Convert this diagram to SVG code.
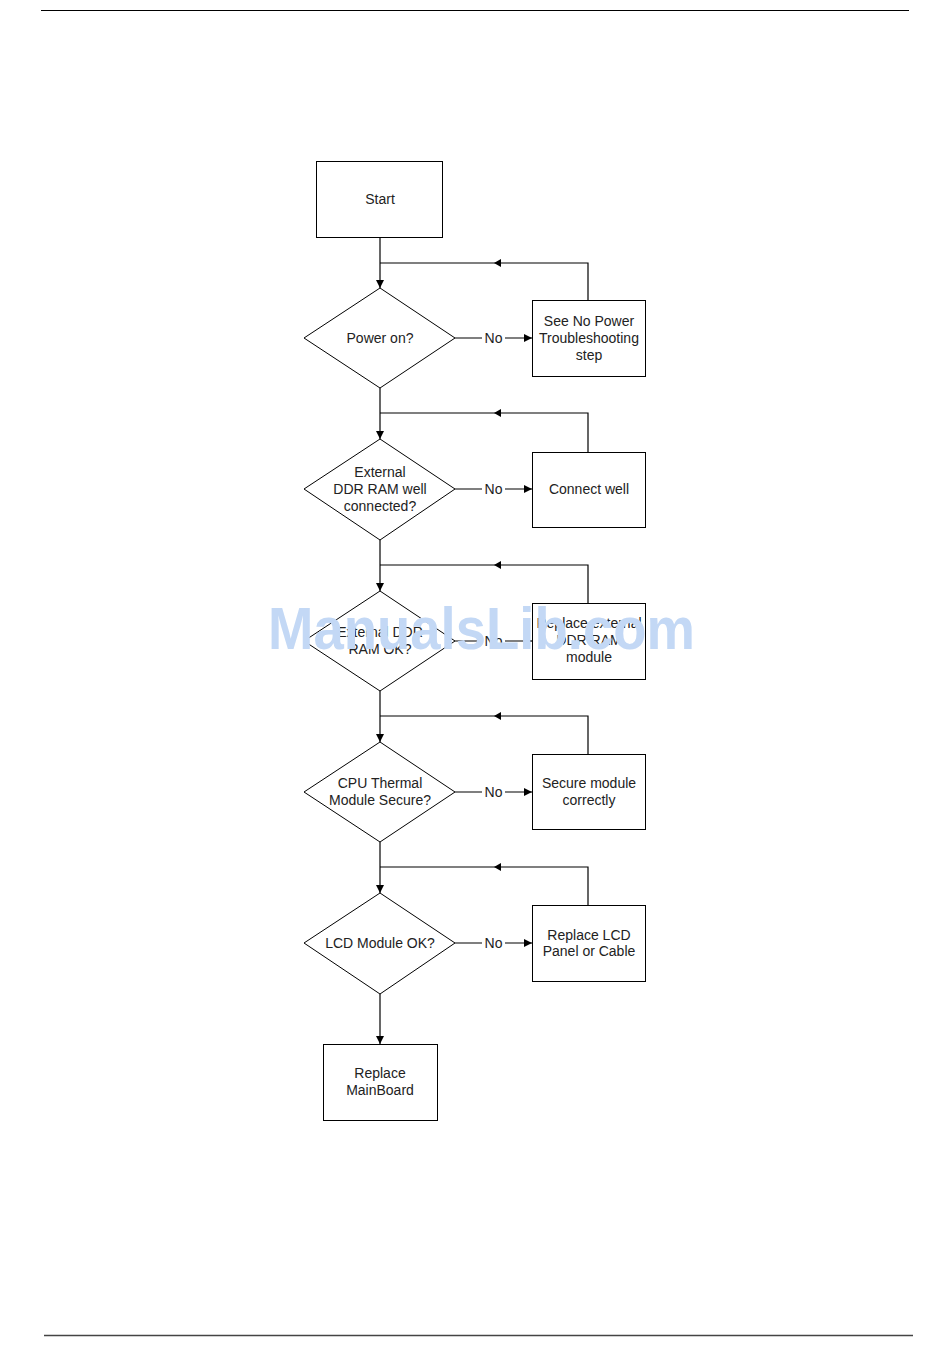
<svg xmlns="http://www.w3.org/2000/svg" width="950" height="1364" viewBox="0 0 950 1364">
<style>
.box{fill:#fff;stroke:#000;stroke-width:1}
.dia{fill:#fff;stroke:#000;stroke-width:1}
.ln{fill:none;stroke:#000;stroke-width:1.2}
.t{font-family:"Liberation Sans",Arial,sans-serif;font-size:14px;fill:#222;text-anchor:middle}
.wm{font-family:"Liberation Sans",Arial,sans-serif;font-weight:bold;font-size:60px;fill:#c3d8f5}
</style>
<defs>
<marker id="ah" markerWidth="8" markerHeight="8" refX="8" refY="4" orient="auto" markerUnits="userSpaceOnUse">
<path d="M0,0 L8,4 L0,8 Z" fill="#000"/>
</marker>
</defs>
<rect width="950" height="1364" fill="#fff"/>
<line x1="41" y1="10.5" x2="909" y2="10.5" stroke="#000" stroke-width="1.2"/>
<line x1="44" y1="1335.5" x2="913" y2="1335.5" stroke="#444" stroke-width="1.5"/>

<g id="connectors">
<path class="ln" d="M380,237 V288" marker-end="url(#ah)"/>
<path class="ln" d="M588,300 V263 H380"/>
<path d="M494,263 L501,259 L501,267 Z"/>
<path class="ln" d="M455,338 H482 M505,338 H532" marker-end="url(#ah)"/>
<text class="t" x="493.5" y="343">No</text>

<path class="ln" d="M380,388 V439" marker-end="url(#ah)"/>
<path class="ln" d="M588,452 V413 H380"/>
<path d="M494,413 L501,409 L501,417 Z"/>
<path class="ln" d="M455,489 H482 M505,489 H532" marker-end="url(#ah)"/>
<text class="t" x="493.5" y="494">No</text>

<path class="ln" d="M380,540 V591" marker-end="url(#ah)"/>
<path class="ln" d="M588,603 V565 H380"/>
<path d="M494,565 L501,561 L501,569 Z"/>
<path class="ln" d="M455,641 H482 M505,641 H532" marker-end="url(#ah)"/>
<text class="t" x="493.5" y="646">No</text>

<path class="ln" d="M380,691 V742" marker-end="url(#ah)"/>
<path class="ln" d="M588,754 V716 H380"/>
<path d="M494,716 L501,712 L501,720 Z"/>
<path class="ln" d="M455,792 H482 M505,792 H532" marker-end="url(#ah)"/>
<text class="t" x="493.5" y="797">No</text>

<path class="ln" d="M380,842 V893" marker-end="url(#ah)"/>
<path class="ln" d="M588,905 V867 H380"/>
<path d="M494,867 L501,863 L501,871 Z"/>
<path class="ln" d="M455,943 H482 M505,943 H532" marker-end="url(#ah)"/>
<text class="t" x="493.5" y="948">No</text>

<path class="ln" d="M380,994 V1044" marker-end="url(#ah)"/>
</g>

<g id="start">
<rect class="box" x="316.5" y="161.5" width="126" height="76"/>
<text class="t" x="380" y="204">Start</text>
</g>

<g id="d1">
<path class="dia" d="M380,288 L455,338 L380,388 L304,338 Z"/>
<text class="t" x="380" y="343">Power on?</text>
</g>
<g id="b1">
<rect class="box" x="532.5" y="300.5" width="113" height="76"/>
<text class="t" x="589" y="326">See No Power</text>
<text class="t" x="589" y="343">Troubleshooting</text>
<text class="t" x="589" y="360">step</text>
</g>

<g id="d2">
<path class="dia" d="M380,439 L455,489 L380,540 L304,489 Z"/>
<text class="t" x="380" y="477">External</text>
<text class="t" x="380" y="494">DDR RAM well</text>
<text class="t" x="380" y="511">connected?</text>
</g>
<g id="b2">
<rect class="box" x="532.5" y="452.5" width="113" height="75"/>
<text class="t" x="589" y="494">Connect well</text>
</g>

<g id="d3">
<path class="dia" d="M380,591 L455,641 L380,691 L304,641 Z"/>
<text class="t" x="380" y="637">External DDR</text>
<text class="t" x="380" y="654">RAM OK?</text>
</g>
<g id="b3">
<rect class="box" x="532.5" y="603.5" width="113" height="76"/>
<text class="t" x="589" y="628">Replace external</text>
<text class="t" x="589" y="645">DDR RAM</text>
<text class="t" x="589" y="662">module</text>
</g>

<g id="d4">
<path class="dia" d="M380,742 L455,792 L380,842 L304,792 Z"/>
<text class="t" x="380" y="788">CPU Thermal</text>
<text class="t" x="380" y="805">Module Secure?</text>
</g>
<g id="b4">
<rect class="box" x="532.5" y="754.5" width="113" height="75"/>
<text class="t" x="589" y="788">Secure module</text>
<text class="t" x="589" y="805">correctly</text>
</g>

<g id="d5">
<path class="dia" d="M380,893 L455,943 L380,994 L304,943 Z"/>
<text class="t" x="380" y="948">LCD Module OK?</text>
</g>
<g id="b5">
<rect class="box" x="532.5" y="905.5" width="113" height="76"/>
<text class="t" x="589" y="940">Replace LCD</text>
<text class="t" x="589" y="956">Panel or Cable</text>
</g>

<g id="end">
<rect class="box" x="323.5" y="1044.5" width="114" height="76"/>
<text class="t" x="380" y="1078">Replace</text>
<text class="t" x="380" y="1095">MainBoard</text>
</g>

<text class="wm" x="268" y="649" textLength="427" lengthAdjust="spacingAndGlyphs">ManualsLib.com</text>
</svg>
